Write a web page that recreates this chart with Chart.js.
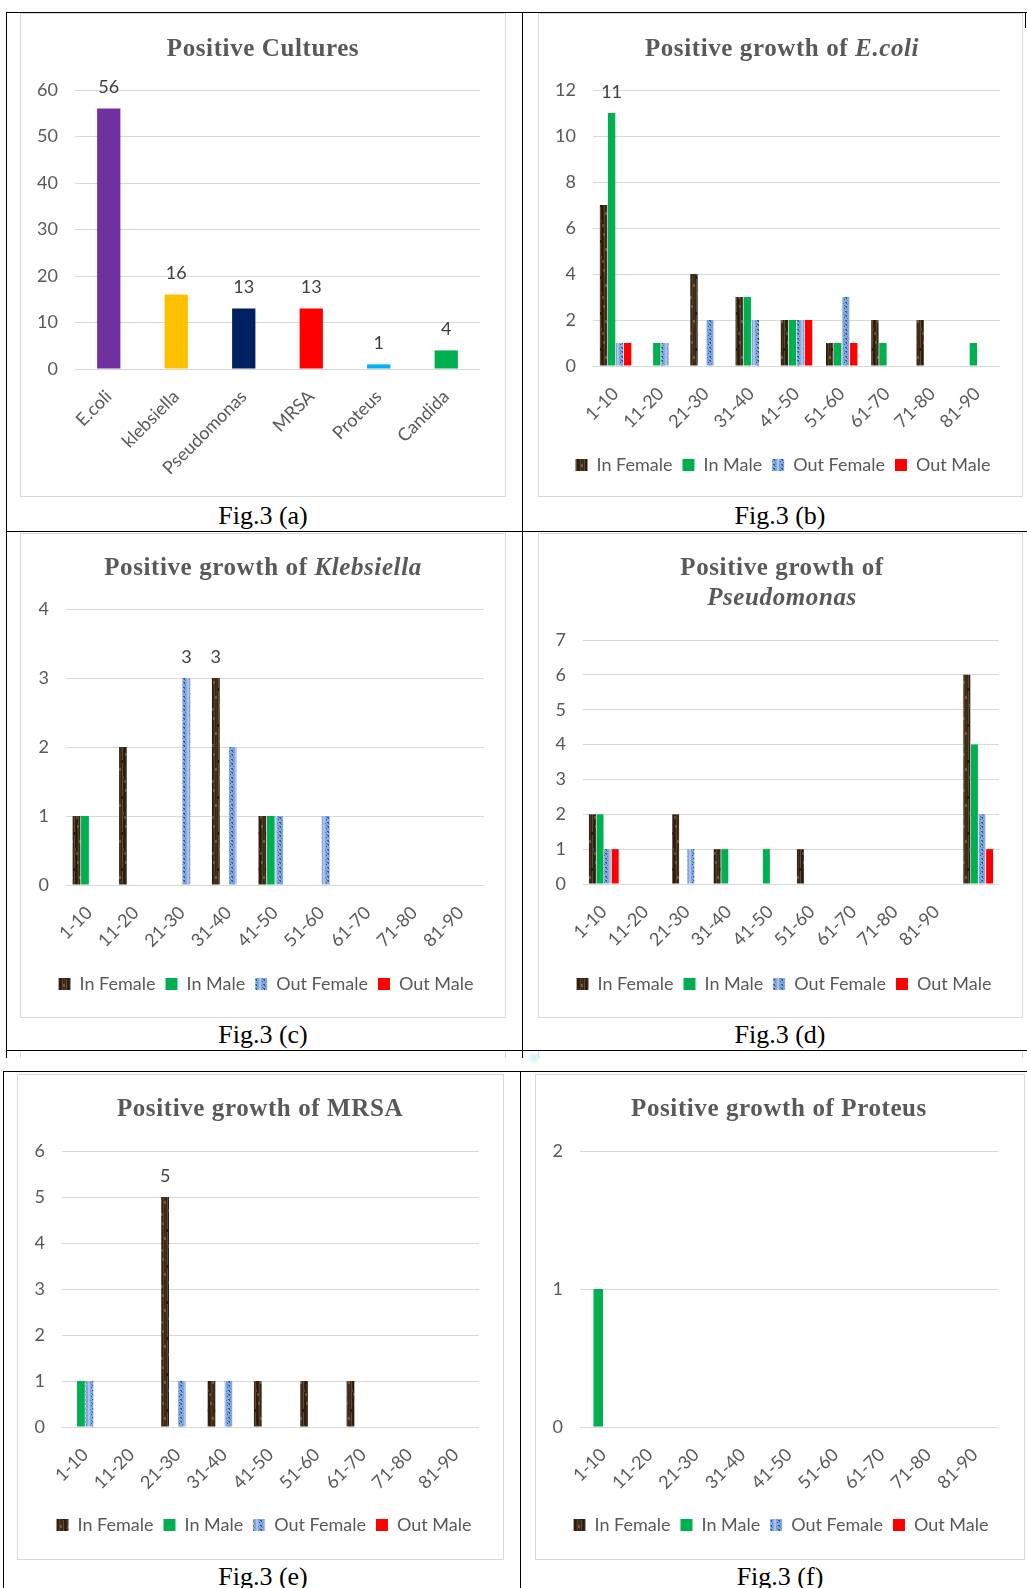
<!DOCTYPE html>
<html>
<head>
<meta charset="utf-8">
<title>Fig.3 Positive cultures</title>
<script src="https://cdn.jsdelivr.net/npm/chart.js@4.4.1/dist/chart.umd.min.js"></script>
<style>
  html, body { margin: 0; padding: 0; background: #fff; }
  #page { position: relative; width: 1027px; height: 1588px; overflow: hidden; background: #fff; }
  .rule { position: absolute; background: #000; }
  .panel { position: absolute; background: #fff; }
  .frame { position: absolute; border: 1px solid #d9d9d9; box-sizing: border-box; pointer-events: none; }
  .stub { position: absolute; border: 1px solid #d9d9d9; border-top: none; border-bottom: none; box-sizing: border-box; }
  .title { position: absolute; transform: translate(-50%, -50%); white-space: nowrap;
           font-family: 'Liberation Serif', serif; font-weight: bold; font-size: 25px;
           letter-spacing: 0.6px; color: #595959; line-height: 30px; text-align: center; }
  .caption { position: absolute; transform: translate(-50%, -50%); white-space: nowrap;
             font-family: 'Liberation Serif', serif; font-size: 26px; color: #000; }
  .speck { position: absolute; width: 14px; height: 12px; border-radius: 50%;
           background: radial-gradient(circle, rgba(160,230,240,0.55) 0%, rgba(200,240,248,0.25) 60%, rgba(255,255,255,0) 100%); }
</style>
</head>
<body>
<div id="page">
  <!-- table rules, upper page -->
  <div class="rule" style="left:6px; top:12px; width:1021px; height:1px;"></div>
  <div class="rule" style="left:6px; top:12px; width:1px; height:1046px;"></div>
  <div class="rule" style="left:522px; top:12px; width:1px; height:1046px;"></div>
  <div class="rule" style="left:1025px; top:12px; width:1px; height:16px;"></div>
  <div class="rule" style="left:6px; top:531px; width:1021px; height:1px;"></div>
  <div class="rule" style="left:6px; top:1050px; width:1021px; height:1px;"></div>
  <div class="stub" style="left:20px; top:1051px; width:486px; height:7px;"></div>
  <div class="stub" style="left:538px; top:1051px; width:485px; height:7px;"></div>
  <div class="speck" style="left:527px; top:1052px;"></div>
  <!-- table rules, lower page -->
  <div class="rule" style="left:3px; top:1071px; width:1024px; height:1px;"></div>
  <div class="rule" style="left:3px; top:1071px; width:1px; height:517px;"></div>
  <div class="rule" style="left:520px; top:1071px; width:1px; height:517px;"></div>
</div>

<script>
// ---- categories ----
const cultureNames = ['E.coli', 'klebsiella', 'Pseudomonas', 'MRSA', 'Proteus', 'Candida'];
const ageGroups = ['1-10', '11-20', '21-30', '31-40', '41-50', '51-60', '61-70', '71-80', '81-90'];
const ageGroupsPseudomonas = ['1-10', '11-20', '21-30', '31-40', '41-50', '51-60', '61-70', '71-80', '81-90', ''];
const seriesNames = ['In Female', 'In Male', 'Out Female', 'Out Male'];

// ---- Fig.3 (a) positive cultures ----
const cultureCounts = [56, 16, 13, 13, 1, 4];

// ---- Fig.3 (b) E.coli ----
const ecoliInFemale  = [7, null, 4, 3, 2, 1, 2, 2, null];
const ecoliInMale    = [11, 1, null, 3, 2, 1, 1, null, 1];
const ecoliOutFemale = [1, 1, 2, 2, 2, 3, null, null, null];
const ecoliOutMale   = [1, null, null, null, 2, 1, null, null, null];

// ---- Fig.3 (c) Klebsiella ----
const klebInFemale  = [1, 2, null, 3, 1, null, null, null, null];
const klebInMale    = [1, null, null, null, 1, null, null, null, null];
const klebOutFemale = [null, null, 3, 2, 1, 1, null, null, null];
const klebOutMale   = [null, null, null, null, null, null, null, null, null];

// ---- Fig.3 (d) Pseudomonas ----
const pseudoInFemale  = [2, null, 2, 1, null, 1, null, null, null, 6];
const pseudoInMale    = [2, null, null, 1, 1, null, null, null, null, 4];
const pseudoOutFemale = [1, null, 1, null, null, null, null, null, null, 2];
const pseudoOutMale   = [1, null, null, null, null, null, null, null, null, 1];

// ---- Fig.3 (e) MRSA ----
const mrsaInFemale  = [null, null, 5, 1, 1, 1, 1, null, null];
const mrsaInMale    = [1, null, null, null, null, null, null, null, null];
const mrsaOutFemale = [1, null, 1, 1, null, null, null, null, null];
const mrsaOutMale   = [null, null, null, null, null, null, null, null, null];

// ---- Fig.3 (f) Proteus ----
const proteusInFemale  = [null, null, null, null, null, null, null, null, null];
const proteusInMale    = [1, null, null, null, null, null, null, null, null];
const proteusOutFemale = [null, null, null, null, null, null, null, null, null];
const proteusOutMale   = [null, null, null, null, null, null, null, null, null];

// ---- value labels shown above bars: [series, category] ----
const cultureLabelled = [[0, 0], [0, 1], [0, 2], [0, 3], [0, 4], [0, 5]];
const ecoliLabelled = [[1, 0]];
const klebLabelled = [[2, 2], [0, 3]];
const pseudoLabelled = [];
const mrsaLabelled = [[0, 2]];
const proteusLabelled = [];

// ---- axis ranges ----
const cultureAxis = { max: 60, step: 10 };
const ecoliAxis = { max: 12, step: 2 };
const klebAxis = { max: 4, step: 1 };
const pseudoAxis = { max: 7, step: 1 };
const mrsaAxis = { max: 6, step: 1 };
const proteusAxis = { max: 2, step: 1 };

// ---------------------------------------------------------------
Chart.defaults.font.family = "Lato, 'Liberation Sans', sans-serif";
Chart.defaults.color = '#595959';

// dark wood-grain fill for the "In Female" series
function woodFill() {
  const c = document.createElement('canvas');
  c.width = 8; c.height = 36;
  const g = c.getContext('2d');
  g.fillStyle = '#3a2817'; g.fillRect(0, 0, 8, 36);
  const streaks = [[0, '#2b1c0e'], [2, '#564029'], [4, '#45311e'], [6, '#62493a'], [7, '#30200f']];
  streaks.forEach(([x, col]) => { g.fillStyle = col; g.fillRect(x, 0, 1, 36); });
  const knots = [[1, 4, '#6d5842'], [5, 11, '#281a0c'], [3, 19, '#6f5a44'], [6, 27, '#59432e'], [0, 31, '#5f4a35']];
  knots.forEach(([x, y, col]) => { g.fillStyle = col; g.fillRect(x, y, 2, 3); });
  return g.createPattern(c, 'repeat');
}

// light blue speckled fill for the "Out Female" series
function speckleFill() {
  const c = document.createElement('canvas');
  c.width = 8; c.height = 9;
  const g = c.getContext('2d');
  g.fillStyle = '#86a9dc'; g.fillRect(0, 0, 8, 9);
  g.fillStyle = '#a9c3ea'; g.fillRect(0, 0, 1, 9); g.fillRect(7, 0, 1, 9);
  g.fillStyle = '#2f58a4';
  [[3, 1], [4, 1], [4, 2], [3, 5], [4, 5], [4, 6], [2, 7]].forEach(([x, y]) => g.fillRect(x, y, 1, 1));
  g.fillStyle = '#5a80c2';
  [[5, 3], [2, 4], [5, 8], [1, 2]].forEach(([x, y]) => g.fillRect(x, y, 1, 1));
  return g.createPattern(c, 'repeat');
}

const WOOD = woodFill();
const SPECKLE = speckleFill();
const seriesFills = [WOOD, '#00b050', SPECKLE, '#ff0000'];
const cultureColours = ['#7030a0', '#ffc000', '#002060', '#ff0000', '#00b0f0', '#00b050'];

// draws the value of selected bars above them
function valueLabels(marks) {
  return {
    id: 'valueLabels',
    afterDatasetsDraw(chart) {
      const ctx = chart.ctx;
      ctx.save();
      ctx.font = "18px Lato, 'Liberation Sans', sans-serif";
      ctx.fillStyle = '#404040';
      ctx.textAlign = 'center';
      ctx.textBaseline = 'middle';
      marks.forEach(([ds, i]) => {
        const bar = chart.getDatasetMeta(ds).data[i];
        const v = chart.data.datasets[ds].data[i];
        if (bar && v != null) ctx.fillText(String(v), bar.x, bar.y - 21);
      });
      ctx.restore();
    }
  };
}

// moves the bottom legend sideways so it sits under the plot like the others
function legendNudge(dx) {
  return {
    id: 'legendNudge',
    afterLayout(chart) {
      if (chart.legend && dx) { chart.legend.left += dx; chart.legend.right += dx; }
    }
  };
}

const page = document.getElementById('page');

function addText(cls, html, x, y) {
  const d = document.createElement('div');
  d.className = cls; d.innerHTML = html;
  d.style.left = x + 'px'; d.style.top = y + 'px';
  page.appendChild(d);
}

function panel(box, spec) {
  const wrap = document.createElement('div');
  wrap.className = 'panel';
  Object.assign(wrap.style, { left: box.x + 'px', top: box.y + 'px', width: box.w + 'px', height: box.h + 'px' });
  const cv = document.createElement('canvas');
  cv.width = box.w; cv.height = box.h;
  wrap.appendChild(cv);
  page.appendChild(wrap);
  const frame = document.createElement('div');
  frame.className = 'frame';
  Object.assign(frame.style, { left: box.x + 'px', top: box.y + 'px', width: box.w + 'px', height: box.h + 'px' });
  page.appendChild(frame);

  const legendH = 38;
  const padBottom = spec.legend ? box.h - 19 - spec.legendMid : 0;
  const xAxisH = spec.legend ? box.h - padBottom - legendH - spec.plotBottom : box.h - spec.plotBottom;
  const padRight = box.w - spec.plotRight;
  const nudge = spec.legend ? spec.legendCentre - (box.w - padRight) / 2 : 0;

  new Chart(cv, {
    type: 'bar',
    data: { labels: spec.labels, datasets: spec.datasets },
    options: {
      responsive: false,
      animation: false,
      events: [],
      layout: { padding: { left: 0, right: padRight, top: spec.plotTop, bottom: padBottom } },
      datasets: { bar: { categoryPercentage: spec.catPct, barPercentage: spec.barPct, borderWidth: 0 } },
      plugins: {
        legend: {
          display: !!spec.legend,
          position: 'bottom',
          labels: { boxWidth: 12, boxHeight: 12, padding: 10, color: '#595959', font: { size: 18 } }
        },
        tooltip: { enabled: false },
        title: { display: false }
      },
      scales: {
        x: {
          grid: { display: false, drawTicks: false },
          border: { display: false },
          ticks: { color: '#595959', font: { size: 18 }, minRotation: 45, maxRotation: 45, autoSkip: false, padding: 17 },
          afterFit(s) { s.height = xAxisH; }
        },
        y: {
          min: 0, max: spec.axis.max,
          ticks: { stepSize: spec.axis.step, color: '#595959', font: { size: 18 }, padding: 17 },
          grid: { color: '#d9d9d9', lineWidth: 1, drawTicks: false },
          border: { display: false },
          afterFit(s) { s.width = spec.plotLeft; }
        }
      }
    },
    plugins: [valueLabels(spec.marks), legendNudge(nudge)]
  });
}

function ageDatasets(a, b, c, d) {
  return [a, b, c, d].map((data, k) => ({
    label: seriesNames[k], data, backgroundColor: seriesFills[k], borderWidth: 0
  }));
}

// Fig.3 (a)
panel({ x: 20, y: 13, w: 486, h: 484 }, {
  labels: cultureNames,
  datasets: [{ label: 'Positive Cultures', data: cultureCounts, backgroundColor: cultureColours }],
  axis: cultureAxis, marks: cultureLabelled,
  plotLeft: 55, plotRight: 460, plotTop: 77, plotBottom: 356,
  catPct: 0.345, barPct: 1, legend: false
});
// Fig.3 (b)
panel({ x: 538, y: 13, w: 485, h: 484 }, {
  labels: ageGroups,
  datasets: ageDatasets(ecoliInFemale, ecoliInMale, ecoliOutFemale, ecoliOutMale),
  axis: ecoliAxis, marks: ecoliLabelled,
  plotLeft: 55, plotRight: 462, plotTop: 77, plotBottom: 353,
  catPct: 0.71, barPct: 0.92, legend: true, legendMid: 452, legendCentre: 245
});
// Fig.3 (c)
panel({ x: 20, y: 533, w: 486, h: 485 }, {
  labels: ageGroups,
  datasets: ageDatasets(klebInFemale, klebInMale, klebOutFemale, klebOutMale),
  axis: klebAxis, marks: klebLabelled,
  plotLeft: 46, plotRight: 464, plotTop: 76, plotBottom: 352,
  catPct: 0.73, barPct: 0.92, legend: true, legendMid: 451, legendCentre: 246
});
// Fig.3 (d)
panel({ x: 538, y: 533, w: 485, h: 485 }, {
  labels: ageGroupsPseudomonas,
  datasets: ageDatasets(pseudoInFemale, pseudoInMale, pseudoOutFemale, pseudoOutMale),
  axis: pseudoAxis, marks: pseudoLabelled,
  plotLeft: 45, plotRight: 461, plotTop: 107, plotBottom: 351,
  catPct: 0.73, barPct: 0.92, legend: true, legendMid: 451, legendCentre: 246
});
// Fig.3 (e)
panel({ x: 17, y: 1074, w: 487, h: 486 }, {
  labels: ageGroups,
  datasets: ageDatasets(mrsaInFemale, mrsaInMale, mrsaOutFemale, mrsaOutMale),
  axis: mrsaAxis, marks: mrsaLabelled,
  plotLeft: 45, plotRight: 462, plotTop: 77, plotBottom: 353,
  catPct: 0.73, barPct: 0.92, legend: true, legendMid: 451, legendCentre: 247
});
// Fig.3 (f)
panel({ x: 535, y: 1074, w: 490, h: 486 }, {
  labels: ageGroups,
  datasets: ageDatasets(proteusInFemale, proteusInMale, proteusOutFemale, proteusOutMale),
  axis: proteusAxis, marks: proteusLabelled,
  plotLeft: 45, plotRight: 463, plotTop: 77, plotBottom: 353,
  catPct: 0.86, barPct: 0.95, legend: true, legendMid: 451, legendCentre: 246
});

// chart titles
addText('title', 'Positive Cultures', 263, 48);
addText('title', 'Positive growth of <i>E.coli</i>', 782, 48);
addText('title', 'Positive growth of <i>Klebsiella</i>', 263, 567);
addText('title', 'Positive growth of<br><i>Pseudomonas</i>', 782, 582);
addText('title', 'Positive growth of MRSA', 260, 1108);
addText('title', 'Positive growth of Proteus', 779, 1108);

// figure captions
addText('caption', 'Fig.3 (a)', 263, 516);
addText('caption', 'Fig.3 (b)', 780, 516);
addText('caption', 'Fig.3 (c)', 263, 1035);
addText('caption', 'Fig.3 (d)', 780, 1035);
addText('caption', 'Fig.3 (e)', 263, 1577);
addText('caption', 'Fig.3 (f)', 780, 1577);
</script>
</body>
</html>
